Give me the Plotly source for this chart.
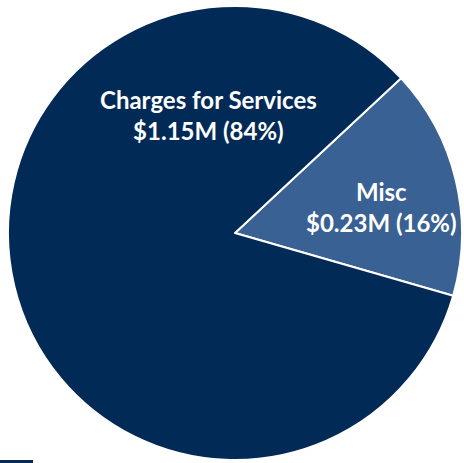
import plotly.graph_objects as go

labels = ["Misc", "Charges for Services"]
values = [0.226, 1.152]
value_text = ["$0.23M", "$1.15M"]
pct_text = ["16%", "84%"]
colors = ["#3a6193", "#022a56"]

W, H = 464, 463
cx, cy, r = 235, 233, 227

fig = go.Figure(go.Pie(
    labels=labels,
    values=values,
    sort=False,
    direction="clockwise",
    rotation=47,
    marker=dict(colors=colors, line=dict(color="white", width=2)),
    textinfo="none",
    hoverinfo="label+value+percent",
    showlegend=False,
    domain=dict(x=[(cx - r) / W, (cx + r) / W], y=[(H - cy - r) / H, (H - cy + r) / H]),
))

label_pos = {"Charges for Services": (208, 115), "Misc": (381, 207)}
for lab, vt, pt in zip(labels, value_text, pct_text):
    px, py = label_pos[lab]
    fig.add_annotation(
        x=px / W, y=1 - py / H, xref="paper", yref="paper",
        xanchor="center", yanchor="middle",
        text=f"<b>{lab}</b><br><b>{vt} ({pt})</b>",
        showarrow=False, align="center",
        font=dict(family="Century Gothic, Lato, sans-serif", size=24, color="white"),
    )

fig.add_shape(type="rect", xref="paper", yref="paper",
              x0=0, x1=33 / W, y0=0, y1=3 / H,
              fillcolor="#022a56", line=dict(width=0))

fig.update_layout(
    width=W, height=H,
    margin=dict(l=0, r=0, t=0, b=0),
    paper_bgcolor="white",
    plot_bgcolor="white",
)
fig.write_html("out.html", config={"displayModeBar": False},
               post_script="document.body.style.margin='0px';")
